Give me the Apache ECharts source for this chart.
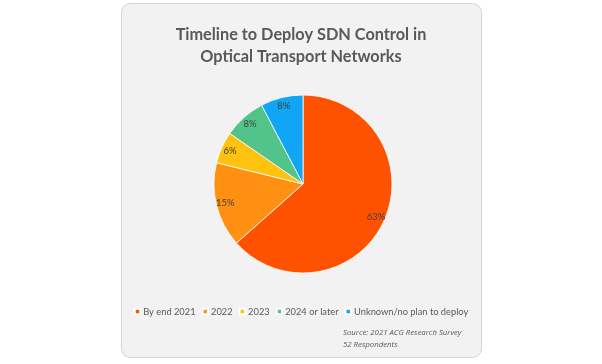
<!DOCTYPE html>
<html><head><meta charset="utf-8">
<script src="https://cdn.jsdelivr.net/npm/echarts@6/dist/echarts.min.js"></script>
<style>html,body{margin:0;padding:0;background:#fff}#c{width:602px;height:364px}</style>
</head><body><div id="c"></div>
<script>
const categories = ['By end 2021', '2022', '2023', '2024 or later', 'Unknown/no plan to deploy'];
const respondents = [33, 8, 3, 4, 4];
const colors = ['#FF5200', '#FF9012', '#FFC20E', '#52C48A', '#10A5F5'];
const titleLines = ['Timeline to Deploy SDN Control in', 'Optical Transport Networks'];
const sourceLines = ['Source: 2021 ACG Research Survey', '52 Respondents'];

const pieData = categories.map((c, i) => ({name: c, value: respondents[i]}));
const chart = echarts.init(document.getElementById('c'), null, {renderer: 'canvas'});
chart.setOption({
  animation: false,
  backgroundColor: '#ffffff',
  graphic: [
    {type: 'rect', z: -10, shape: {x: 121.5, y: 3.5, width: 360, height: 354, r: 9},
     style: {fill: '#f2f2f2', stroke: '#d4d4d4', lineWidth: 1}},
    {type: 'text', left: 343, top: 327, style: {text: sourceLines.join('\n'), font: 'italic 7.8px "Open Sans"', fill: '#595959', lineHeight: 12}}
  ],
  title: {
    text: titleLines.join('\n'), left: 'center', top: 19, padding: 5,
    textStyle: {fontFamily: 'Lato', fontWeight: 'bold', fontSize: 16.3, color: '#595959', lineHeight: 22}
  },
  legend: {
    bottom: 43, left: 'center', itemWidth: 5.5, itemHeight: 5.5, itemGap: 6, icon: 'rect',
    textStyle: {fontFamily: 'Lato', fontSize: 9.3, color: '#595959', padding: [0, 0, 0, -2]},
    data: categories
  },
  color: colors,
  series: [{
    type: 'pie', center: [303, 184], radius: 89, startAngle: 90, clockwise: true,
    itemStyle: {borderColor: '#ffffff', borderWidth: 0.8},
    label: {show: false}, labelLine: {show: false},
    data: pieData
  }, {
    type: 'pie', center: [303, 184], radius: [65, 89], startAngle: 90, clockwise: true, silent: true,
    itemStyle: {color: 'rgba(0,0,0,0)', borderWidth: 0},
    label: {position: 'inside', formatter: (p) => Math.round(p.percent) + '%', fontFamily: 'Lato', fontSize: 9.5, color: '#404040'},
    labelLine: {show: false}, emphasis: {disabled: true},
    data: pieData
  }]
});
</script></body></html>
